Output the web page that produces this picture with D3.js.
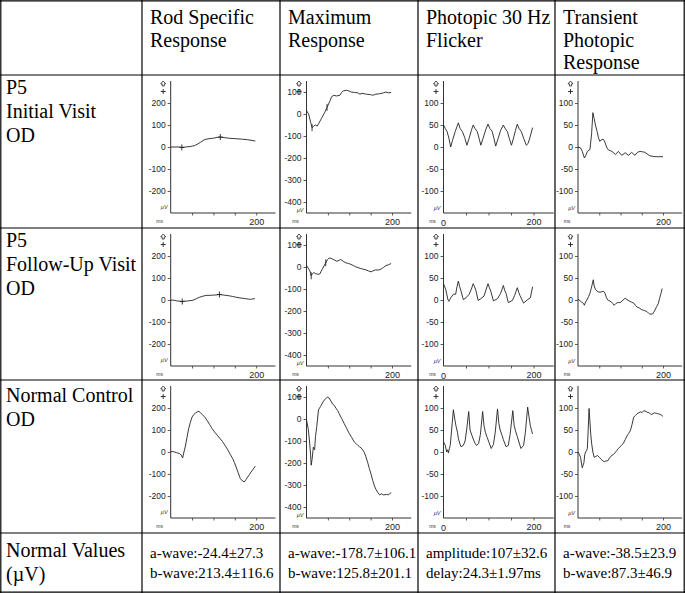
<!DOCTYPE html>
<html><head><meta charset="utf-8">
<script src="https://cdnjs.cloudflare.com/ajax/libs/d3/7.8.5/d3.min.js"></script>
<style>body{margin:0;background:#fff}</style>
</head><body>
<svg id="chart" width="685" height="593"></svg>
<script>
// ---------- DATA ----------
const columnHeaders = [["Rod Specific","Response"],["Maximum","Response"],["Photopic 30 Hz","Flicker"],["Transient","Photopic","Response"]];
const rowHeaders = [["P5","Initial Visit","OD"],["P5","Follow-Up Visit","OD"],["Normal Control","OD"],["Normal Values","(µV)"]];
const normalValues = [["a-wave:-24.4±27.3","b-wave:213.4±116.6"],["a-wave:-178.7±106.1","b-wave:125.8±201.1"],["amplitude:107±32.6","delay:24.3±1.97ms"],["a-wave:-38.5±23.9","b-wave:87.3±46.9"]];

const rodTicks = [200,100,0,-100,-200];
const maxTicks = [100,0,-100,-200,-300,-400];
const photopicTicks = [100,50,0,-50,-100];
const timeTicks = [50,100,150,200];
const rodDomain = [-300,300];
const maxDomain = [-450,150];
const photopicDomain = [-150,150];

// traces: [ms, µV]
const rodInitial = [[0,0],[10,0],[20,0],[26,-2],[35,0],[45,2],[55,6],[62,12],[70,22],[80,34],[90,38],[100,40],[110,44],[116,45],[125,43],[135,40],[150,38],[165,36],[180,33],[190,30],[198,27]];
const maxInitial = [[0,15],[5,0],[10,-40],[13,-62],[17,-55],[21,-50],[25,-55],[28,-45],[35,-20],[42,5],[48,30],[55,60],[59,79],[64,85],[70,82],[78,85],[82,98],[86,105],[94,108],[100,104],[105,100],[112,98],[120,96],[125,90],[130,94],[140,90],[150,88],[155,85],[162,90],[171,92],[180,96],[186,100],[192,96],[198,98]];
const flickerInitial = [[0,50],[4,42],[8,35],[12,20],[16,0],[20,15],[26,35],[33,55],[37,42],[42,35],[47,22],[52,4],[57,20],[62,38],[66,50],[70,42],[75,35],[79,20],[83,4],[88,20],[94,40],[99,52],[103,42],[108,36],[112,20],[116,2],[121,18],[127,38],[133,50],[137,42],[142,35],[146,20],[151,4],[155,18],[160,38],[164,52],[168,42],[173,35],[178,20],[184,4],[188,8],[193,25],[198,44]];
const transientInitial = [[0,0],[6,-2],[10,-10],[15,-25],[19,-18],[22,-10],[28,-6],[32,30],[35,78],[38,65],[41,50],[45,35],[48,22],[51,13],[55,16],[59,18],[62,14],[64,9],[68,-2],[72,-7],[80,-10],[88,-17],[95,-10],[103,-19],[111,-13],[119,-19],[126,-12],[134,-19],[140,-12],[146,-10],[152,-11],[157,-12],[163,-16],[169,-20],[181,-22],[190,-22],[200,-22]];
const rodFollow = [[0,0],[8,-1],[14,-4],[20,-5],[27,-7],[32,-5],[37,-5],[45,-3],[52,-1],[60,6],[68,13],[75,17],[83,21],[90,21],[98,22],[106,23],[114,25],[122,23],[129,21],[137,19],[145,16],[152,13],[160,10],[168,8],[175,6],[182,4],[187,3],[192,5],[197,6]];
const maxFollow = [[0,7],[4,-5],[8,-18],[11,-40],[14,-30],[17,-25],[21,-30],[25,-32],[28,-33],[31,-32],[34,-20],[37,-10],[41,5],[45,19],[49,33],[53,41],[57,40],[60,37],[65,32],[71,26],[76,30],[80,34],[86,26],[92,19],[98,16],[104,12],[110,6],[115,1],[121,-3],[127,-7],[133,-10],[139,-13],[145,-18],[151,-22],[155,-18],[162,-13],[168,-14],[174,-10],[180,-2],[186,7],[192,10],[198,16]];
const flickerFollow = [[0,37],[5,24],[10,0],[12,-3],[16,5],[22,13],[27,13],[30,30],[33,43],[36,30],[39,20],[44,1],[50,5],[57,13],[62,25],[66,37],[69,30],[72,22],[77,-1],[83,3],[90,9],[95,25],[99,37],[102,28],[105,20],[111,-2],[120,3],[127,15],[133,33],[136,22],[139,15],[144,-6],[153,-1],[158,10],[164,28],[167,18],[170,10],[178,-7],[187,1],[193,5],[198,30]];
const transientFollow = [[0,2],[5,-2],[9,-5],[13,-8],[15,-12],[18,-4],[21,0],[25,8],[28,15],[32,30],[36,46],[38,32],[41,24],[45,20],[49,18],[54,18],[59,20],[62,18],[64,14],[67,5],[70,0],[74,-2],[78,-4],[82,-8],[85,-12],[89,-8],[93,-6],[97,-6],[101,-5],[106,0],[111,4],[115,1],[120,-2],[126,-5],[131,-7],[135,-12],[139,-16],[144,-18],[150,-22],[156,-24],[162,-26],[166,-30],[169,-32],[175,-32],[180,-25],[185,-15],[189,-8],[192,4],[195,14],[198,26]];
const rodNormal = [[0,3],[7,1],[14,-3],[20,-7],[24,-12],[28,-27],[31,0],[34,23],[38,65],[42,106],[46,135],[50,159],[54,170],[58,177],[62,182],[66,185],[70,178],[74,170],[80,158],[85,144],[91,125],[97,106],[103,90],[109,76],[115,62],[121,48],[127,30],[133,12],[139,-10],[145,-30],[149,-48],[153,-68],[158,-95],[163,-121],[168,-132],[172,-136],[176,-126],[180,-114],[184,-103],[188,-91],[193,-78],[198,-64]];
const maxNormal = [[0,-5],[4,-43],[7,-100],[9.5,-160],[11,-210],[13,-185],[16,-128],[19,-140],[21,-80],[24,-35],[28,42],[33,57],[37,72],[41,85],[45,92],[49,100],[53,95],[57,82],[61,68],[65,62],[69,49],[73,38],[76,26],[82,3],[88,-20],[94,-43],[100,-66],[106,-85],[112,-105],[116,-112],[120,-120],[124,-126],[128,-132],[132,-142],[135,-151],[139,-172],[143,-197],[147,-225],[151,-251],[155,-280],[159,-305],[163,-322],[167,-335],[171,-345],[175,-340],[180,-345],[187,-343],[192,-345],[195,-338],[198,-335]];
const flickerNormal = [[0,23],[4,15],[7,0],[9,5],[11,-2],[13,8],[15,15],[18,50],[22,96],[25,75],[28,58],[31,45],[33,31],[36,20],[39,12],[44,15],[48,25],[52,55],[56,92],[59,50],[63,38],[67,27],[70,20],[73,15],[78,19],[82,40],[87,92],[90,60],[93,45],[97,33],[100,25],[106,8],[111,17],[115,45],[120,98],[123,65],[126,50],[130,38],[133,28],[139,12],[144,15],[148,40],[154,94],[157,60],[160,48],[164,35],[167,25],[172,8],[178,15],[182,45],[187,102],[190,80],[193,60],[196,48],[198,41]];
const transientNormal = [[0,0],[3,-5],[6,-12],[8,-25],[10,-36],[12,-30],[14,-24],[16,-5],[18,0],[20,3],[22,8],[24,50],[26,99],[28,70],[30,40],[32,20],[35,0],[38,-12],[42,-10],[46,-8],[50,-12],[54,-16],[58,-20],[62,-22],[66,-20],[70,-20],[74,-14],[79,-8],[83,-6],[87,-2],[91,3],[95,8],[101,14],[107,20],[111,28],[115,36],[119,42],[123,48],[127,62],[131,79],[135,83],[139,87],[143,89],[147,91],[151,90],[155,94],[160,92],[164,90],[168,89],[172,85],[176,87],[180,89],[184,88],[188,87],[192,86],[196,84],[200,81]];

// a/b-wave cursor marks
const rodInitialMarks = [[26,-2],[116,45]];
const rodFollowMarks = [[27,-7],[114,25]];
const maxInitialMarks = [[13,-62],[48,30]];
const maxFollowMarks = [[11,-40],[45,19]];

const panels = [
  {row:0,col:0,data:rodInitial,marks:rodInitialMarks,cross:true,ticks:rodTicks,domain:rodDomain,zero:false},
  {row:0,col:1,data:maxInitial,marks:maxInitialMarks,cross:false,ticks:maxTicks,domain:maxDomain,zero:false},
  {row:0,col:2,data:flickerInitial,marks:[],ticks:photopicTicks,domain:photopicDomain,zero:true},
  {row:0,col:3,data:transientInitial,marks:[],ticks:photopicTicks,domain:photopicDomain,zero:false},
  {row:1,col:0,data:rodFollow,marks:rodFollowMarks,cross:true,ticks:rodTicks,domain:rodDomain,zero:false},
  {row:1,col:1,data:maxFollow,marks:maxFollowMarks,cross:false,ticks:maxTicks,domain:maxDomain,zero:false},
  {row:1,col:2,data:flickerFollow,marks:[],ticks:photopicTicks,domain:photopicDomain,zero:true},
  {row:1,col:3,data:transientFollow,marks:[],ticks:photopicTicks,domain:photopicDomain,zero:false},
  {row:2,col:0,data:rodNormal,marks:[],ticks:rodTicks,domain:rodDomain,zero:false},
  {row:2,col:1,data:maxNormal,marks:[],ticks:maxTicks,domain:maxDomain,zero:false},
  {row:2,col:2,data:flickerNormal,marks:[],ticks:photopicTicks,domain:photopicDomain,zero:true},
  {row:2,col:3,data:transientNormal,marks:[],ticks:photopicTicks,domain:photopicDomain,zero:false}
];

// ---------- LAYOUT ----------
const W = 685, H = 593;
const colX = [0,142,280,418,555,685];
const rowY = [0,75,228,380,533,593];
const axisOffset = [28.7,26.5,25.5,23];
const span200 = [85.5,85.5,90,85];
const unitLift = [4,0.8,3,3];
const serif = "'Liberation Serif','Times New Roman',serif";
const sans = "'Liberation Sans',Arial,sans-serif";

const svg = d3.select("#chart");
svg.append("rect").attr("width",W).attr("height",H).attr("fill","#fff");

// grid
const grid = svg.append("g").attr("stroke","#000").attr("stroke-width",1.2);
colX.forEach((x,i)=>{
  const xx = i===0?0.8:(i===colX.length-1?W-0.8:x);
  grid.append("line").attr("x1",xx).attr("x2",xx).attr("y1",0).attr("y2",H);
});
rowY.forEach((y,i)=>{
  const yy = i===0?0.8:(i===rowY.length-1?H-0.8:y);
  grid.append("line").attr("y1",yy).attr("y2",yy).attr("x1",0).attr("x2",W);
});

// header texts
const fs = 20, lh = 22.5;
columnHeaders.forEach((lines,c)=>{
  lines.forEach((t,k)=>{
    svg.append("text").attr("x",colX[c+1]+8).attr("y",24+k*lh)
      .attr("font-family",serif).attr("font-size",fs).attr("fill","#000").text(t);
  });
});
const rowTextY = [94,247,402,557];
rowHeaders.forEach((lines,r)=>{
  lines.forEach((t,k)=>{
    svg.append("text").attr("x",6).attr("y",rowTextY[r]+k*24)
      .attr("font-family",serif).attr("font-size",fs).attr("fill","#000").text(t);
  });
});
normalValues.forEach((lines,c)=>{
  lines.forEach((t,k)=>{
    svg.append("text").attr("x",colX[c+1]+8).attr("y",558+k*20)
      .attr("font-family",serif).attr("font-size",15).attr("fill","#000").text(t);
  });
});

// panels
panels.forEach(p=>{
  const ax = colX[p.col+1] + axisOffset[p.col];
  const top = rowY[p.row+1] + 6, bot = rowY[p.row+1] + 138;
  const x = d3.scaleLinear().domain([0,200]).range([ax, ax+span200[p.col]]);
  const y = d3.scaleLinear().domain(p.domain).range([bot, top]);
  const g = svg.append("g");

  // y axis
  const yAxis = d3.axisLeft(y).tickValues(p.ticks).tickSize(3).tickPadding(2).tickFormat(d=>String(d));
  const ya = g.append("g").attr("transform",`translate(${ax},0)`).call(yAxis);
  ya.select(".domain").remove();
  ya.selectAll("line").attr("stroke","#333").attr("stroke-width",0.8);
  ya.selectAll("text").attr("font-family",sans).attr("font-size",8.5).attr("fill","#222");
  g.append("line").attr("x1",ax).attr("x2",ax).attr("y1",top).attr("y2",bot).attr("stroke","#333").attr("stroke-width",1);

  // x axis
  const xAxis = d3.axisBottom(x).tickValues(timeTicks).tickSize(2.5).tickPadding(3)
    .tickFormat(d=> d===200 ? "200" : "");
  const xa = g.append("g").attr("transform",`translate(0,${bot})`).call(xAxis);
  xa.select(".domain").remove();
  xa.selectAll("line").attr("stroke","#333").attr("stroke-width",0.8);
  xa.selectAll("text").attr("font-family",sans).attr("font-size",9).attr("fill","#222");
  g.append("line").attr("x1",ax).attr("x2",x(245)).attr("y1",bot).attr("y2",bot).attr("stroke","#333").attr("stroke-width",1);
  if (p.zero) {
    g.append("text").attr("x",x(0)).attr("y",bot+12.5).attr("text-anchor","middle")
      .attr("font-family",sans).attr("font-size",9).attr("fill","#222").text("0");
  }
  // unit labels
  g.append("text").attr("x",ax-11).attr("y",bot+10).attr("text-anchor","middle")
    .attr("font-family",sans).attr("font-size",5).attr("fill","#333").text("ms");
  g.append("text").attr("x",ax-3).attr("y",bot-unitLift[p.col]).attr("text-anchor","end")
    .attr("font-family",sans).attr("font-size",5.5).attr("font-style","italic").attr("fill","#333").text("µV");
  // polarity glyphs (outlined up-arrow and plus)
  const gx = ax-7.5, gy = top;
  g.append("path")
    .attr("d",`M${gx},${gy} L${gx+2.5},${gy+2.8} H${gx+1.1} V${gy+5} H${gx-1.1} V${gy+2.8} H${gx-2.5} Z`)
    .attr("fill","none").attr("stroke","#222").attr("stroke-width",0.8);
  g.append("path")
    .attr("d",`M${gx-2.5},${gy+10.5} H${gx+2.5} M${gx},${gy+8} V${gy+13}`)
    .attr("stroke","#222").attr("stroke-width",0.9);

  // trace
  const line = d3.line().x(d=>x(d[0])).y(d=>y(d[1]));
  g.append("path").datum(p.data).attr("d",line).attr("fill","none")
    .attr("stroke","#222").attr("stroke-width",0.9).attr("stroke-linejoin","round");
  // marks
  g.selectAll(".mk").data(p.marks).join("path")
    .attr("d",d=> p.cross
      ? `M${x(d[0])-2.5},${y(d[1])}H${x(d[0])+2.5}M${x(d[0])},${y(d[1])-3}V${y(d[1])+3}`
      : `M${x(d[0])},${y(d[1])-3.5}V${y(d[1])+3.5}`)
    .attr("stroke","#222").attr("stroke-width",0.9);
});
</script>
</body></html>
